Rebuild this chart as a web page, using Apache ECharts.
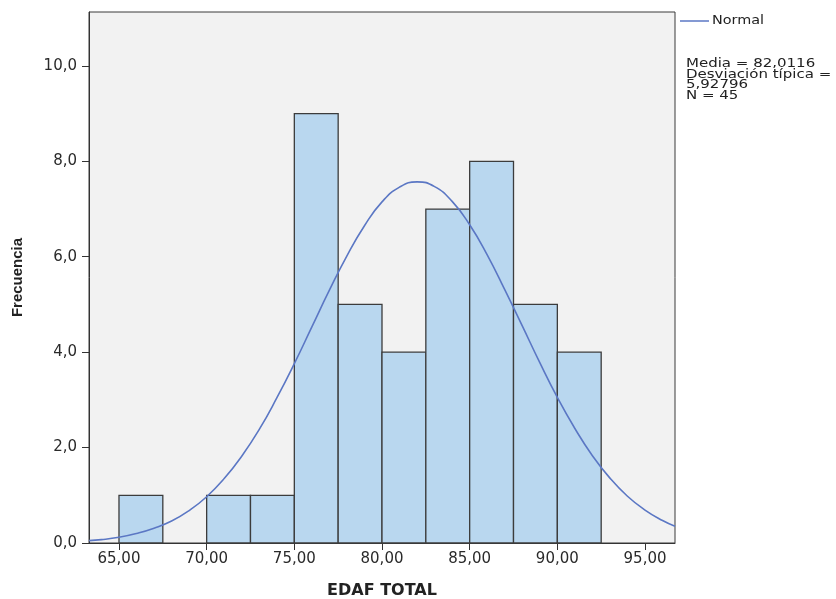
<!DOCTYPE html>
<html><head><meta charset="utf-8">
<script src="https://cdn.jsdelivr.net/npm/echarts@6/dist/echarts.min.js"></script>
<style>html,body{margin:0;padding:0;background:#fff}#c{width:836px;height:599px}</style>
</head><body><div id="c"></div>
<script>
// Histogram bins: [start, end]
const binStarts = [65, 67.5, 70, 72.5, 75, 77.5, 80, 82.5, 85, 87.5, 90];
const binWidth = 2.5;
const counts = [1, 0, 1, 1, 9, 5, 4, 7, 8, 5, 4];
// Normal curve
const curveX = [63.29,64,65,66,67,68,69,70,71,72,73,74,75,76,77,78,79,80,81,82,83,84,85,86,87,88,89,90,91,92,93,94,95,96,96.71];
const curveY = [0.05,0.07,0.12,0.20,0.31,0.46,0.68,0.97,1.35,1.82,2.38,3.04,3.76,4.53,5.30,6.02,6.65,7.15,7.46,7.57,7.47,7.16,6.67,6.04,5.31,4.55,3.78,3.05,2.40,1.83,1.36,0.98,0.69,0.47,0.35];
const xTicks = [65, 70, 75, 80, 85, 90, 95];
const yTicks = [0, 2, 4, 6, 8, 10];
const statsLines = ['Media = 82,0116', 'Desviación típica =', '5,92796', 'N = 45'];

const chart = echarts.init(document.getElementById('c'));
const barData = binStarts.map((s, i) => [s, s + binWidth, counts[i]]).filter(d => d[2] > 0);
const fmt = (v, d) => v.toFixed(d).replace('.', ',');

chart.setOption({
  animation: false,
  grid: { left: 89, right: 161, top: 12, bottom: 56, containLabel: false, outerBoundsMode: 'none',
    show: true, backgroundColor: '#f2f2f2', borderColor: '#3a3a3a', borderWidth: 1 },
  xAxis: {
    type: 'value', min: 63.29, max: 96.71,
    name: 'EDAF TOTAL', nameLocation: 'middle', nameGap: 40,
    nameTextStyle: { fontFamily: 'DejaVu Sans', fontWeight: 'bold', fontSize: 16, color: '#222' },
    axisLine: { show: true, onZero: false, lineStyle: { color: '#333' } },
    axisTick: { show: true, length: 7, customValues: xTicks, lineStyle: { color: '#333' } },
    axisLabel: { customValues: xTicks, formatter: v => fmt(v, 2), fontFamily: 'DejaVu Sans', fontSize: 15, color: '#2a2a2a', margin: 9 },
    splitLine: { show: false }
  },
  yAxis: {
    type: 'value', min: 0, max: 11.13,
    name: 'Frecuencia', nameLocation: 'middle', nameGap: 64,
    nameTextStyle: { fontFamily: 'Liberation Sans', fontWeight: 'bold', fontSize: 15, color: '#222' },
    axisLine: { show: true, lineStyle: { color: '#333' } },
    axisTick: { show: true, length: 7, customValues: yTicks, lineStyle: { color: '#333' } },
    axisLabel: { customValues: yTicks, formatter: v => fmt(v, 1), fontFamily: 'DejaVu Sans', fontSize: 15, color: '#2a2a2a', margin: 12 },
    splitLine: { show: false }
  },
  series: [
    {
      type: 'custom',
      data: barData,
      renderItem: function (params, api) {
        const p0 = api.coord([api.value(0), api.value(2)]);
        const p1 = api.coord([api.value(1), 0]);
        return { type: 'rect', shape: { x: p0[0], y: p0[1], width: p1[0] - p0[0], height: p1[1] - p0[1] },
          style: { fill: '#b9d7ef', stroke: '#3c3c3c', lineWidth: 1.3 } };
      },
      encode: { x: [0, 1], y: 2 },
      z: 2
    },
    {
      type: 'line', smooth: true, symbol: 'none', z: 3,
      data: curveX.map((x, i) => [x, curveY[i]]),
      lineStyle: { color: '#5b77c4', width: 1.6 }
    }
  ],
  graphic: [
    { type: 'line', shape: { x1: 680, y1: 21, x2: 709, y2: 21 }, style: { stroke: '#5b77c4', lineWidth: 1.5 } },
    { type: 'text', x: 712, y: 15, scaleX: 1.2, style: { text: 'Normal', font: '12px "DejaVu Sans"', fill: '#222' } },
    { type: 'text', x: 686, y: 59, scaleX: 1.2, style: { text: statsLines.join('\n'), font: '12.5px "DejaVu Sans"', lineHeight: 10.4, fill: '#222' } }
  ]
});
</script></body></html>
